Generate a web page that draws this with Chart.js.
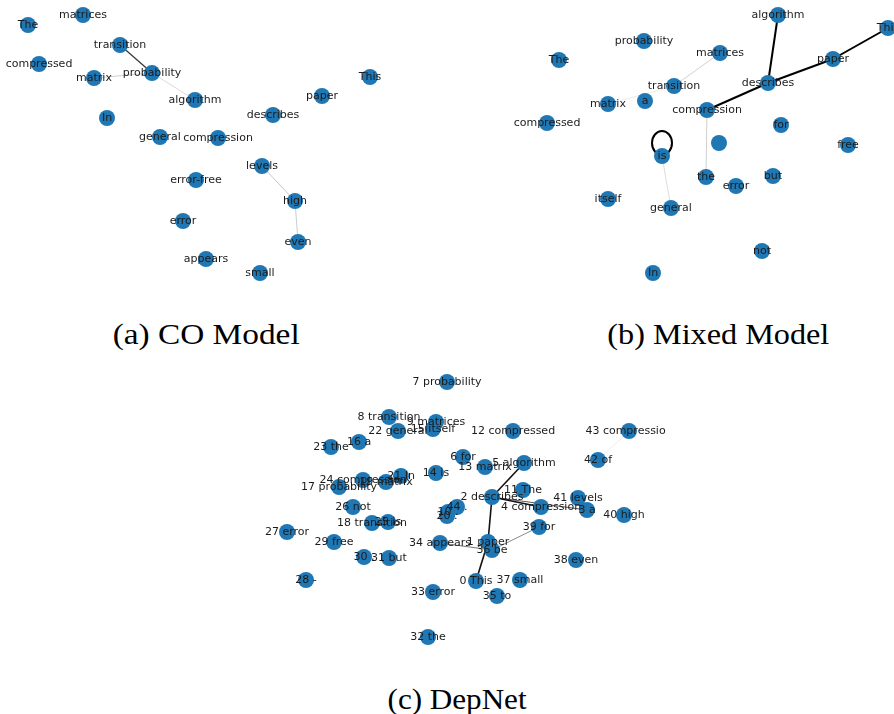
<!DOCTYPE html>
<html>
<head>
<meta charset="utf-8">
<script src="https://cdn.jsdelivr.net/npm/chart.js@4.4.1/dist/chart.umd.min.js"></script>
<style>
  html, body { margin: 0; padding: 0; background: #fff; }
  body { width: 894px; height: 714px; position: relative; overflow: hidden; }
  .panel { position: absolute; }
  .cap { position: absolute; font-family: "Liberation Serif", "DejaVu Serif", serif; font-size: 30px; color: #000; white-space: nowrap; transform-origin: 50% 50%; line-height: 1; }
</style>
</head>
<body>
<div class="panel" style="left:0px;top:0px;"><canvas id="ca" width="400" height="295"></canvas></div>
<div class="panel" style="left:490px;top:0px;"><canvas id="cb" width="404" height="295"></canvas></div>
<div class="panel" style="left:250px;top:365px;"><canvas id="cc" width="416" height="290"></canvas></div>
<div class="cap" id="capA" data-cx="206" data-top="319" data-w="187">(a) CO Model</div>
<div class="cap" id="capB" data-cx="718" data-top="319" data-w="222">(b) Mixed Model</div>
<div class="cap" id="capC" data-cx="457" data-top="684" data-w="139">(c) DepNet</div>
<script>
// ---------- Panel (a) CO Model ----------
const wordsA = ["The","matrices","transition","compressed","matrix","probability","algorithm","In","general","compression","describes","paper","This","levels","error-free","high","error","even","appears","small"];
const xA = [28, 83, 120, 39, 94, 152, 195, 107, 160, 218, 273, 322, 370, 262, 196, 295, 183, 298, 206, 260];
const yA = [25, 15, 45, 64, 78, 73, 100, 118, 137, 138, 115, 96, 77, 166, 180, 201, 221, 242, 259, 273];
const edgesA = [[2,5],[4,5],[5,6],[13,15],[15,17]];
const edgeShadeA = ["#3a3a3a","#cfcfcf","#dadada","#c8c8c8","#cccccc"];
const edgeWidthA = [1.3, 1, 1, 1, 1];

// ---------- Panel (b) Mixed Model ----------
const wordsB = ["algorithm","This","probability","matrices","The","paper","transition","describes","a","matrix","compression","compressed","for","","free","is","the","error","but","itself","general","not","In"];
const xB = [778, 888, 644, 720, 559, 833, 674, 768, 645, 608, 707, 547, 781, 719, 848, 662, 706, 736, 773, 608, 671, 762, 653];
const yB = [15, 28, 41, 53, 60, 59, 86, 83, 101, 104, 110, 123, 125, 143, 145, 156, 177, 186, 176, 199, 208, 251, 273];
const edgesB = [[0,7],[7,5],[5,1],[7,10],[3,6],[6,9],[10,16],[15,20]];
const edgeShadeB = ["#000000","#000000","#000000","#000000","#d0d0d0","#ececec","#cfcfcf","#dcdcdc"];
const edgeWidthB = [2, 2, 2, 2, 1, 1, 1, 1];
const selfLoopsB = [15];

// ---------- Panel (c) DepNet ----------
const wordsC = ["This","paper","describes","a","compression","algorithm","for","probability","transition","matrices",".","The","compressed","matrix","is","itself","a","probability","transition","matrix",".","In","general","the","compression","is","not","error","-","free",",","but","the","error","appears","to","be","small","even","for","high","levels","of","compression","."];
const xC = [476, 488, 492, 587, 541, 524, 463, 447, 389, 436, 448, 523, 513, 485, 436, 433, 359, 339, 372, 386, 447, 401, 398, 331, 363, 388, 353, 287, 306, 334, 364, 389, 428, 433, 440, 497, 492, 520, 576, 539, 624, 578, 598, 629, 457];
const yC = [581, 542, 497, 510, 507, 463, 457, 382, 417, 422, 512, 490, 431, 467, 473, 429, 442, 487, 523, 482, 516, 476, 431, 447, 480, 522, 507, 532, 580, 542, 557, 558, 637, 592, 543, 596, 550, 580, 560, 527, 515, 498, 460, 431, 507];
const edgesC = [[2,5],[2,4],[2,3],[2,1],[1,0],[34,36],[36,39],[42,43]];
const edgeShadeC = ["#111111","#111111","#555555","#111111","#111111","#777777","#8a8a8a","#eeeeee"];
const edgeWidthC = [1.6, 1.6, 1, 1.6, 1.6, 1, 1, 1];

const NODE_COLOR = "#1f77b4";
const LABEL_FONT = "11px 'DejaVu Sans'";

const labelPlugin = {
  id: "nodeLabels",
  beforeDatasetsDraw(chart) {
    const o = chart.options.plugins.nodeLabels;
    if (!o || !o.loops) return;
    const ctx = chart.ctx, xs = chart.scales.x, ys = chart.scales.y;
    ctx.save();
    ctx.strokeStyle = "#000"; ctx.lineWidth = 2;
    o.loops.forEach(i => {
      const px = xs.getPixelForValue(o.xs[i]);
      const py = ys.getPixelForValue(o.ys[i]);
      ctx.beginPath();
      ctx.ellipse(px, py - 13, 10, 12, 0, 0, Math.PI * 2);
      ctx.stroke();
    });
    ctx.restore();
  },
  afterDatasetsDraw(chart) {
    const o = chart.options.plugins.nodeLabels;
    if (!o) return;
    const ctx = chart.ctx, xs = chart.scales.x, ys = chart.scales.y;
    ctx.save();
    ctx.font = LABEL_FONT;
    ctx.fillStyle = "#1c1c1c";
    ctx.textAlign = "center";
    ctx.textBaseline = "middle";
    o.words.forEach((w, i) => {
      if (!w) return;
      const t = o.numbered ? (i + " " + w) : w;
      ctx.fillText(t, xs.getPixelForValue(o.xs[i]), ys.getPixelForValue(o.ys[i]));
    });
    ctx.restore();
  }
};

function makeGraph(id, words, xs, ys, edges, shades, widths, xr, yr, numbered, loops) {
  const datasets = [];
  datasets.push({
    label: "nodes",
    data: words.map((w, i) => ({ x: xs[i], y: ys[i] })),
    backgroundColor: NODE_COLOR,
    borderColor: NODE_COLOR,
    borderWidth: 0,
    pointRadius: 8,
    pointHoverRadius: 8,
    order: 0,
    clip: false
  });
  edges.forEach((e, k) => {
    datasets.push({
      label: "edge" + k,
      data: [{ x: xs[e[0]], y: ys[e[0]] }, { x: xs[e[1]], y: ys[e[1]] }],
      showLine: true,
      borderColor: shades[k],
      borderWidth: widths[k],
      pointRadius: 0,
      pointHoverRadius: 0,
      order: 1,
      clip: false
    });
  });
  return new Chart(document.getElementById(id), {
    type: "scatter",
    data: { datasets },
    options: {
      responsive: false,
      animation: false,
      devicePixelRatio: 1,
      layout: { padding: 0, autoPadding: false },
      events: [],
      scales: {
        x: { type: "linear", min: xr[0], max: xr[1], display: false },
        y: { type: "linear", min: yr[0], max: yr[1], reverse: true, display: false }
      },
      plugins: {
        legend: { display: false },
        tooltip: { enabled: false },
        nodeLabels: { words, xs, ys, numbered, loops }
      }
    },
    plugins: [labelPlugin]
  });
}

makeGraph("ca", wordsA, xA, yA, edgesA, edgeShadeA, edgeWidthA, [0, 400], [0, 295], false, null);
makeGraph("cb", wordsB, xB, yB, edgesB, edgeShadeB, edgeWidthB, [490, 894], [0, 295], false, selfLoopsB);
makeGraph("cc", wordsC, xC, yC, edgesC, edgeShadeC, edgeWidthC, [250, 666], [365, 655], true, null);

// captions: fit widths like the LaTeX captions
document.querySelectorAll(".cap").forEach(el => {
  const w = el.getBoundingClientRect().width;
  const target = +el.dataset.w;
  const s = target / w;
  el.style.left = (+el.dataset.cx - w / 2) + "px";
  el.style.top = el.dataset.top + "px";
  el.style.transform = "scaleX(" + s.toFixed(3) + ")";
});
</script>
</body>
</html>
